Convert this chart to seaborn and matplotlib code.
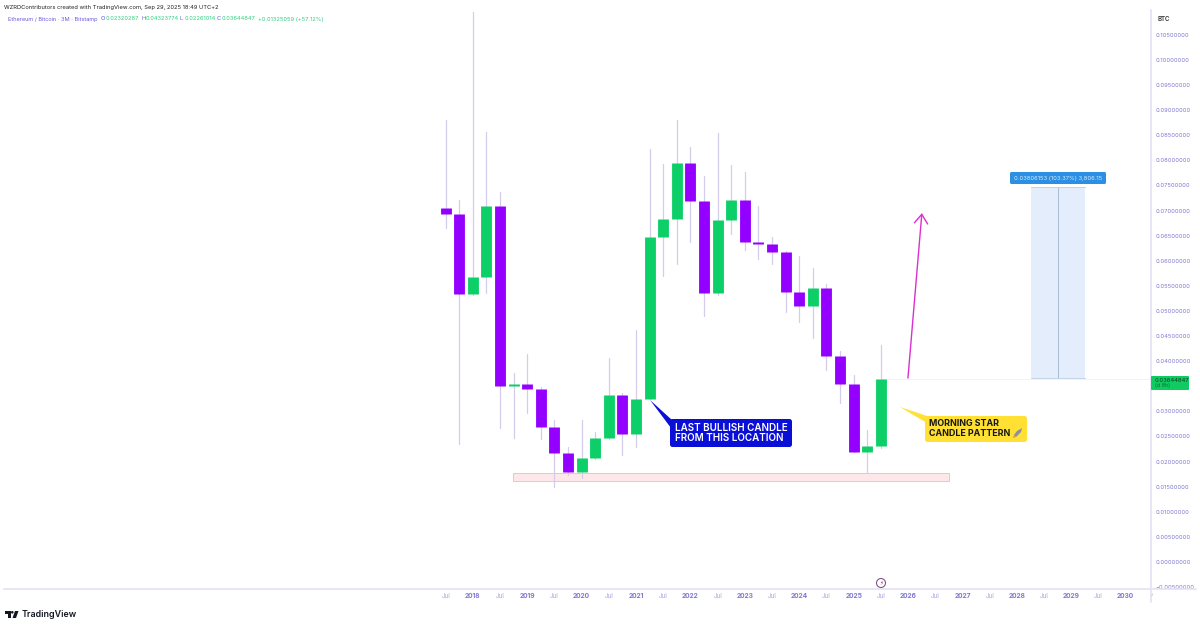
import numpy as np
import pandas as pd
import seaborn as sns
import matplotlib.pyplot as plt
from matplotlib.patches import FancyBboxPatch, Polygon, Rectangle, Circle
from matplotlib.transforms import IdentityTransform

# quarterly ETH/BTC candles
opens = [0.07052, 0.06932, 0.05332, 0.05677, 0.07085, 0.03513, 0.03552, 0.03440, 0.02689, 0.02178, 0.01793,
         0.02072, 0.02463, 0.03327, 0.02543, 0.03254, 0.06474, 0.06826, 0.07942, 0.07198, 0.05352, 0.06813,
         0.07211, 0.06381, 0.06328, 0.06169, 0.05385, 0.05100, 0.05458, 0.04104, 0.03552, 0.02198, 0.02320]
closes = [0.06932, 0.05332, 0.05677, 0.07085, 0.03513, 0.03552, 0.03440, 0.02689, 0.02178, 0.01793, 0.02072,
          0.02463, 0.03327, 0.02543, 0.03254, 0.06474, 0.06826, 0.07942, 0.07198, 0.05352, 0.06813, 0.07211,
          0.06381, 0.06328, 0.06169, 0.05385, 0.05100, 0.05458, 0.04104, 0.03552, 0.02198, 0.02311, 0.03644]
highs = [0.08805, 0.07211, 0.10956, 0.08559, 0.07377, 0.03758, 0.04143, 0.03493, 0.02829, 0.02297, 0.02829,
         0.02596, 0.04057, 0.03373, 0.04622, 0.08220, 0.07928, 0.08805, 0.08274, 0.07689, 0.08539, 0.07908,
         0.07776, 0.07092, 0.06481, 0.06200, 0.06096, 0.05850, 0.05538, 0.04210, 0.03725, 0.02629, 0.04324]
lows = [0.06647, 0.02351, 0.05320, 0.05352, 0.02663, 0.02463, 0.02975, 0.02444, 0.01501, 0.01733, 0.01667,
        0.02045, 0.02444, 0.02131, 0.02297, 0.03254, 0.05697, 0.05936, 0.06381, 0.04900, 0.05319, 0.06534,
        0.06215, 0.06029, 0.05936, 0.04987, 0.04781, 0.04462, 0.03825, 0.03174, 0.02198, 0.01766, 0.02261]
dates = [2017.5 + 0.25 * i for i in range(33)]

price_ticks = [-0.005, 0.0, 0.005, 0.01, 0.015, 0.02, 0.025, 0.03, 0.04, 0.045, 0.05, 0.055, 0.06,
               0.065, 0.07, 0.075, 0.08, 0.085, 0.09, 0.095, 0.10, 0.105]
jul_ticks = [2017.5 + i for i in range(13)]
year_ticks = [2018 + i for i in range(13)]

PURPLE = '#9400FF'
GREEN = '#0CCF68'
WICK = '#D3CDEB'
AXIS = '#E4E1F5'
TICK = '#7F78D2'
TICK_DIM = '#A9A4E0'

sns.set_theme(style='white')
plt.rcParams['font.family'] = ['Inter', 'DejaVu Sans']

df = pd.DataFrame({'date': dates, 'open': opens, 'close': closes, 'high': highs, 'low': lows})
df['dir'] = np.where(df['close'] >= df['open'], 'up', 'down')
wicks = df.melt(id_vars=['date'], value_vars=['high', 'low'], value_name='price')
bodies = df.melt(id_vars=['date', 'dir'], value_vars=['open', 'close'], value_name='price')

fig = plt.figure(figsize=(12, 6.28), dpi=100)
# axes area in pixels: x 0-1151, y 10-589
ax = fig.add_axes([0, (628 - 589) / 628, 1151 / 1200, 579 / 628])

sns.lineplot(data=wicks, x='date', y='price', units='date', estimator=None, color=WICK,
             linewidth=0.9, ax=ax, zorder=2)
sns.lineplot(data=bodies, x='date', y='price', units='date', hue='dir', estimator=None,
             palette={'up': GREEN, 'down': PURPLE}, linewidth=7.8, solid_capstyle='butt',
             legend=False, ax=ax, zorder=3)

ax.set_xlim(2009.307, 2030.466)
ax.set_ylim(-0.00538, 0.10996)
ax.set_xlabel('')
ax.set_ylabel('')

for s in ['top', 'left']:
    ax.spines[s].set_visible(False)
for s in ['right', 'bottom']:
    ax.spines[s].set_color(AXIS)
    ax.spines[s].set_linewidth(1.2)
ax.spines['bottom'].set_bounds(2009.38, 2030.466)

ax.yaxis.tick_right()
ax.set_yticks(price_ticks)
ax.set_yticklabels([f'{t:.8f}'.replace('-', '\u2212') for t in price_ticks], fontsize=4.2, color=TICK)
ax.tick_params(axis='y', length=0, pad=3)
ax.set_xticks(year_ticks)
ax.set_xticklabels([str(y) for y in year_ticks], fontsize=4.8, color=TICK, fontweight='bold')
ax.set_xticks(jul_ticks, minor=True)
ax.set_xticklabels(['Jul'] * len(jul_ticks), minor=True, fontsize=4.6, color=TICK_DIM)
ax.tick_params(axis='x', which='both', length=0, pad=3)

# support zone
ax.add_patch(Rectangle((2018.737, 0.01614), 8.015, 0.00159, facecolor='#FDE7E8', edgecolor='#F6BFC3',
                       linewidth=0.7, zorder=1))
# projection box and last price line
ax.axhline(0.03644, xmin=881 / 1151, color='#EEF6EF', linewidth=0.7, zorder=1)
ax.add_patch(Rectangle((2028.26, 0.03665), 0.993, 0.03805, facecolor='#E4EDFB', edgecolor='none', zorder=1))
ax.plot([2028.755, 2028.755], [0.03665, 0.0747], color='#A9BCD6', linewidth=0.7, zorder=2)
ax.plot([2028.26, 2029.253], [0.0747, 0.0747], color='#C5D3E8', linewidth=0.7, zorder=2)
ax.plot([2028.26, 2029.253], [0.03665, 0.03665], color='#C5D3E8', linewidth=0.7, zorder=2)
# arrow
ax.annotate('', xy=(2026.254, 0.06950), xytext=(2025.998, 0.03665),
            arrowprops=dict(arrowstyle='->,head_length=0.55,head_width=0.4', color='#DB2FD0', lw=1.0,
                            shrinkA=0, shrinkB=0))

px = IdentityTransform()


def flip(y):
    return 628 - y


def box(x0, y0, x1, y1, color, r=2.5):
    fig.add_artist(FancyBboxPatch((x0 + r, flip(y1) + r), x1 - x0 - 2 * r, y1 - y0 - 2 * r,
                                  boxstyle=f'round,pad={r},rounding_size={r}', facecolor=color,
                                  edgecolor='none', transform=px, zorder=6))


def tail(points, color, z=6):
    fig.add_artist(Polygon([(x, flip(y)) for x, y in points], closed=True, facecolor=color,
                           edgecolor='none', transform=px, zorder=z))


def label(x, y, s, **kw):
    fig.text(x / 1200, (628 - y) / 628, s, va=kw.pop('va', 'center'), zorder=8, **kw)


# blue callout
tail([(650, 400), (672, 420), (671, 428)], '#0A0FD8')
box(670, 419, 792, 447, '#0A0FD8')
label(675, 428, 'LAST BULLISH CANDLE', fontsize=7.1, color='white', fontweight='semibold')
label(675, 438, 'FROM THIS LOCATION', fontsize=7.1, color='white', fontweight='semibold')

# yellow callout
tail([(900, 407), (927, 416), (927, 423)], '#FFE033')
box(925, 416, 1027, 442, '#FFE033')
label(929, 424, 'MORNING STAR', fontsize=6.4, color='#161616', fontweight='bold')
label(929, 433, 'CANDLE PATTERN', fontsize=6.4, color='#161616', fontweight='bold')
# little rocket
tail([(1014, 435), (1017, 431), (1022, 428), (1021, 432), (1016, 437)], '#8A8FA5', 9)
tail([(1014, 435), (1016, 437), (1013, 438)], '#F28C28', 9)

# measure label
box(1010, 172, 1106, 184, '#2B8FE3', r=1.5)
label(1058, 178, '0.03806153 (103.37%) 3,806.15', fontsize=4.2, color='#D8ECFB', ha='center')

# last price tag
box(1151, 376, 1189, 390, '#0FCB62', r=1)
label(1155, 380, '0.03644847', fontsize=4.2, color='#0B3D22')
label(1155, 386, '(d 8h)', fontsize=3.8, color='#0B6A36')

# event marker on the time axis
fig.add_artist(Circle((881, flip(583)), 4.5, facecolor='white', edgecolor='#7A5A8C', linewidth=0.8,
                      transform=px, zorder=6))
label(881, 583, '\u26a1', fontsize=4, color='#C2185B', ha='center', family=['DejaVu Sans'])

# axis tail below the chart and to the sides
fig.add_artist(plt.Line2D([1151, 1151], [flip(589), flip(602)], color=AXIS, lw=1.2, transform=px))
fig.add_artist(plt.Line2D([1151, 1196], [flip(589), flip(589)], color=AXIS, lw=1.2, transform=px))
label(1151, 595, 'J', fontsize=3, color=TICK_DIM)

label(1157, 19, 'BTC', fontsize=4.4, color='#333333', fontweight='semibold')

# header
label(4, 7, 'WZRDContributors created with TradingView.com, Sep 29, 2025 18:49 UTC+2', fontsize=4.15, color='#222222')
label(8, 19, 'Ethereum / Bitcoin \u00b7 3M \u00b7 Bitstamp', fontsize=4.05, color='#6A5ADF')
for x, k, v in [(101, 'O', '0.02320287'), (141, 'H', '0.04323774'), (180, 'L', '0.02261014'), (217, 'C', '0.03644847')]:
    label(x, 19, k, fontsize=4.1, color='#6A5ADF')
    label(x + 5, 19, v, fontsize=4.1, color='#2FCF80')
label(258, 19, '+0.01325059 (+57.12%)', fontsize=4.1, color='#2FCF80')

# logo
tail([(5, 611), (10.5, 611), (10.5, 618), (8, 618), (8, 613.5), (5, 613.5)], '#131722')
fig.add_artist(Circle((12.3, flip(612.3)), 1.3, facecolor='#131722', edgecolor='none', transform=px, zorder=6))
tail([(12.5, 618), (15, 611), (18.5, 611), (16, 618)], '#131722')
label(22, 614.5, 'TradingView', fontsize=6.4, color='#131722', fontweight='semibold')

fig.savefig('out.png', dpi=100, facecolor='white')
